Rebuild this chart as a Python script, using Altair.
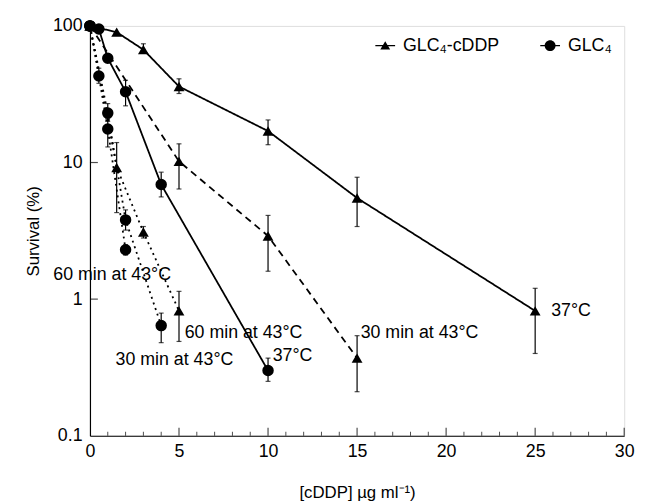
import altair as alt
import pandas as pd

# ---- data ----
# GLC4-cDDP (triangles)
cddp37_x = [0, 1.5, 3, 5, 10, 15, 25]
cddp37_y = [100, 90, 67, 36, 17, 5.5, 0.82]
cddp37_lo = [None, None, 63, 32, 13.5, 3.4, 0.40]
cddp37_hi = [None, None, 74, 41, 20.5, 7.8, 1.2]

cddp30_x = [0, 5, 10, 15]
cddp30_y = [100, 10.2, 2.9, 0.37]
cddp30_lo = [None, 6.4, 1.6, 0.21]
cddp30_hi = [None, 13.7, 4.1, 0.54]

cddp60_x = [0, 1.5, 3, 5]
cddp60_y = [100, 9.2, 3.1, 0.82]
cddp60_lo = [None, 4.3, 2.8, 0.49]
cddp60_hi = [None, 14, 3.4, 1.14]

# GLC4 (circles)
glc37_x = [0, 0.5, 1, 2, 4, 10]
glc37_y = [100, 95, 58, 33, 6.9, 0.30]
glc37_lo = [None, None, None, 26, 5.6, 0.25]
glc37_hi = [None, None, None, 40, 8.5, 0.37]

glc30_x = [0, 1, 2, 4]
glc30_y = [100, 23, 3.8, 0.64]
glc30_lo = [None, 20, 3.2, 0.48]
glc30_hi = [None, 27, 4.5, 0.79]

glc60_x = [0, 0.5, 1, 2]
glc60_y = [100, 43, 17.6, 2.3]
glc60_lo = [None, 38, 13, 2.1]
glc60_hi = [None, 49, 21, 2.5]

cell_names = ["GLC₄-cDDP", "GLC₄"]

# annotations
ann_text = ["60 min at 43°C", "60 min at 43°C", "30 min at 43°C", "37°C",
            "30 min at 43°C", "37°C"]
ann_x = [4.55, 5.32, 1.44, 10.26, 15.2, 25.9]
ann_y = [1.49, 0.565, 0.355, 0.385, 0.56, 0.82]
ann_align = ["right", "left", "left", "left", "left", "left"]

x_major = [5, 10, 15, 20, 25, 30]
x_minor = [v for v in range(1, 30) if v % 5 != 0]
y_major = [1, 10, 100]

# ---- build table ----
rows = []
def add(name, cell, style, xs, ys, lo, hi):
    for a, b, l, h in zip(xs, ys, lo, hi):
        rows.append(dict(series=name, cell=cell, style=style, x=a, y=b, lo=l, hi=h))

add("c37", cell_names[0], "solid", cddp37_x, cddp37_y, cddp37_lo, cddp37_hi)
add("c30", cell_names[0], "dashed", cddp30_x, cddp30_y, cddp30_lo, cddp30_hi)
add("c60", cell_names[0], "dotted", cddp60_x, cddp60_y, cddp60_lo, cddp60_hi)
add("g37", cell_names[1], "solid", glc37_x, glc37_y, glc37_lo, glc37_hi)
add("g30", cell_names[1], "dotted", glc30_x, glc30_y, glc30_lo, glc30_hi)
add("g60", cell_names[1], "dotted", glc60_x, glc60_y, glc60_lo, glc60_hi)
df = pd.DataFrame(rows)
err = df.dropna(subset=["lo", "hi"])

ann = pd.DataFrame(dict(t=ann_text, x=ann_x, y=ann_y, al=ann_align))

W, H = 541, 415
FONT = "Liberation Sans"
FS = 18

xs = alt.Scale(domain=[0, 30], nice=False, zero=False)
ys = alt.Scale(type="log", domain=[0.1, 100], nice=False)
xaxis = alt.Axis(values=[0, 5, 10, 15, 20, 25, 30], ticks=False, grid=False,
                 domainColor="black", domainWidth=1.2, labelFont=FONT,
                 labelFontSize=FS, labelColor="black", labelPadding=7,
                 labelFlush=False, title="[cDDP] µg ml⁻¹)", titleFont=FONT,
                 titleFontSize=17, titleFontWeight="normal", titleColor="black",
                 titlePadding=25)
yaxis = alt.Axis(values=[0.1, 1, 10, 100], format="~g", ticks=False, grid=False,
                 domainColor="black", domainWidth=1.2, labelFont=FONT,
                 labelFontSize=FS, labelColor="black", labelPadding=8,
                 title="Survival (%)", titleFont=FONT, titleFontSize=17,
                 titleFontWeight="normal", titleColor="black", titlePadding=10)

X = alt.X("x:Q", scale=xs, axis=xaxis)
Y = alt.Y("y:Q", scale=ys, axis=yaxis)

base = alt.Chart(df)

lines = base.mark_line(color="black", strokeWidth=1.8).encode(
    x=X, y=Y, detail="series:N", order="x:Q",
    strokeDash=alt.StrokeDash("style:N", legend=None,
                              scale=alt.Scale(domain=["solid", "dashed", "dotted"],
                                              range=[[1, 0], [7, 5], [2, 4]])))

rules = alt.Chart(err).mark_rule(color="black", strokeWidth=1.2).encode(
    x=X, y=alt.Y("lo:Q", scale=ys, axis=yaxis), y2="hi:Q")
cap_lo = alt.Chart(err).mark_tick(orient="horizontal", color="black", size=5,
                                  thickness=1.2).encode(x=X, y=alt.Y("lo:Q", scale=ys, axis=yaxis))
cap_hi = alt.Chart(err).mark_tick(orient="horizontal", color="black", size=5,
                                  thickness=1.2).encode(x=X, y=alt.Y("hi:Q", scale=ys, axis=yaxis))

tri = base.transform_filter(alt.datum.cell == cell_names[0]).mark_point(
    shape="triangle-up", filled=True, color="black", size=120, opacity=1).encode(x=X, y=Y)
circ = base.transform_filter(alt.datum.cell == cell_names[1]).mark_point(
    shape="circle", filled=True, color="black", size=135, opacity=1).encode(x=X, y=Y)

texts = []
for al in ["left", "right"]:
    texts.append(alt.Chart(ann).transform_filter(alt.datum.al == al).mark_text(
        align=al, baseline="middle", font=FONT, fontSize=FS, color="black").encode(
        x=X, y=Y, text="t:N"))

ytick = alt.Chart(pd.DataFrame({"y": y_major})).mark_tick(
    orient="horizontal", color="black", size=8, thickness=1.2).encode(
    y=Y, x=alt.value(4))
xtick_major = alt.Chart(pd.DataFrame({"x": x_major})).mark_tick(
    orient="vertical", color="black", size=8, thickness=1.2).encode(
    x=X, y=alt.value(H - 4))
xtick_minor = alt.Chart(pd.DataFrame({"x": x_minor})).mark_tick(
    orient="vertical", color="black", size=4, thickness=1).encode(
    x=X, y=alt.value(H - 2))

# legend symbols: thin filled bar + marker (all filled, same winding)
tri_path = "M-1,-0.07L1,-0.07L1,0.07L-1,0.07Z M-0.5,0.4L0,-0.45L0.5,0.4Z"
circ_path = ("M-1,-0.07L1,-0.07L1,0.07L-1,0.07Z "
             "M0.55,0A0.55,0.55 0 1,1 -0.55,0A0.55,0.55 0 1,1 0.55,0Z")
leg_df = pd.DataFrame({"x": [1, 1], "y": [1e4, 1e4], "cell": cell_names})
legend_layer = alt.Chart(leg_df).mark_point(
    clip=True, filled=True, color="black", size=400, opacity=1).encode(
    x=X, y=Y,
    shape=alt.Shape("cell:N", sort=cell_names,
                    scale=alt.Scale(domain=cell_names, range=[tri_path, circ_path]),
                    legend=alt.Legend(title=None, orient="none", legendX=288, legendY=9,
                                      direction="horizontal", columnPadding=38,
                                      labelFont=FONT, labelFontSize=FS,
                                      labelColor="black", labelOffset=7,
                                      symbolSize=400, symbolFillColor="black",
                                      symbolOpacity=1)))

chart = alt.layer(lines, rules, cap_lo, cap_hi, tri, circ, *texts, ytick,
                  xtick_major, xtick_minor, legend_layer).properties(
    width=W, height=H,
    autosize=alt.AutoSizeParams(type="none"),
    padding={"left": 83, "top": 15, "right": 16, "bottom": 66},
).configure_view(stroke=None).configure(background="white")

chart.save("out.html", embed_options={"renderer": "svg", "actions": False})
